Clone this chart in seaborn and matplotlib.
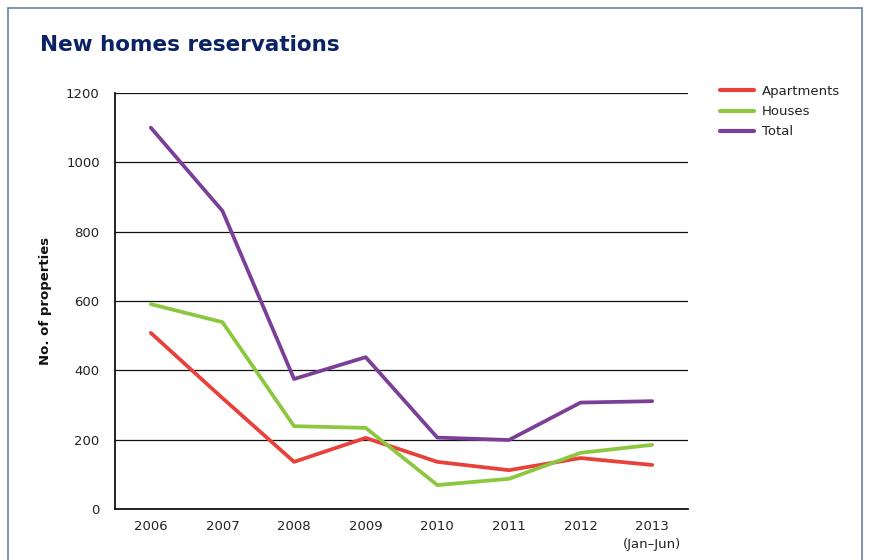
import matplotlib
matplotlib.use("Agg")
import matplotlib.pyplot as plt
import seaborn as sns
import pandas as pd
from matplotlib.patches import Rectangle

years = ["2006", "2007", "2008", "2009", "2010", "2011", "2012", "2013\n(Jan–Jun)"]
apartments = [508, 320, 136, 205, 136, 112, 147, 127]
houses = [591, 539, 239, 234, 69, 87, 162, 185]
total = [1100, 860, 375, 438, 206, 199, 307, 311]

series_names = ["Apartments", "Houses", "Total"]
colors = ["#e8413a", "#8dc63f", "#7b3f98"]

df = pd.DataFrame({
    "x": list(range(len(years))) * 3,
    "value": apartments + houses + total,
    "series": [s for s in series_names for _ in years],
})

sns.set_theme(style="white")
plt.rcParams["font.family"] = ["DejaVu Sans"]

fig = plt.figure(figsize=(8.69, 5.6), dpi=100)
ax = fig.add_axes([115 / 869, 1 - 509 / 560, (688 - 115) / 869, (509 - 93) / 560])

sns.lineplot(data=df, x="x", y="value", hue="series", palette=colors,
             linewidth=2.7, ax=ax, legend=True)

ax.set_xlim(-0.5, 7.5)
ax.set_ylim(0, 1200)
ax.set_yticks(range(0, 1201, 200))
ax.set_xticks(range(len(years)))
ax.set_xticklabels(years, fontsize=9.5, color="#222222", linespacing=1.5, va="top")
ax.tick_params(axis="x", length=0, pad=8, labelsize=9.5, colors="#222222")
ax.tick_params(axis="y", length=0, pad=11, labelsize=9.5, colors="#222222")
ax.set_xlabel("")
ax.set_ylabel("No. of properties", fontsize=9.5, fontweight="bold", color="#111111")
ax.yaxis.set_label_coords((52 - 115) / 573, 0.5)

ax.grid(False)
for yv in range(200, 1201, 200):
    ax.axhline(yv, color="#111111", linewidth=0.9, zorder=0)

for side in ["top", "right"]:
    ax.spines[side].set_visible(False)
for side in ["left", "bottom"]:
    ax.spines[side].set_color("#111111")
    ax.spines[side].set_linewidth(1.3)

handles, labels = ax.get_legend_handles_labels()
leg = ax.legend(handles, labels, loc="upper left", bbox_to_anchor=(1.035, 1.048),
                frameon=False, fontsize=9.5, handlelength=2.6, labelspacing=0.55,
                handletextpad=0.6)
for line in leg.get_lines():
    line.set_linewidth(3)
for t in leg.get_texts():
    t.set_color("#222222")

fig.text(40 / 869, 1 - 45 / 560, "New homes reservations", fontsize=15.5,
         fontweight="bold", color="#0b2265", va="center", ha="left")

fig.patches.append(Rectangle((8 / 869, -0.05), (862 - 8) / 869, 1 - 8 / 560 + 0.05,
                             transform=fig.transFigure, fill=False,
                             edgecolor="#6b7fa8", linewidth=1.2))

fig.savefig("out.png", dpi=100, facecolor="white")
